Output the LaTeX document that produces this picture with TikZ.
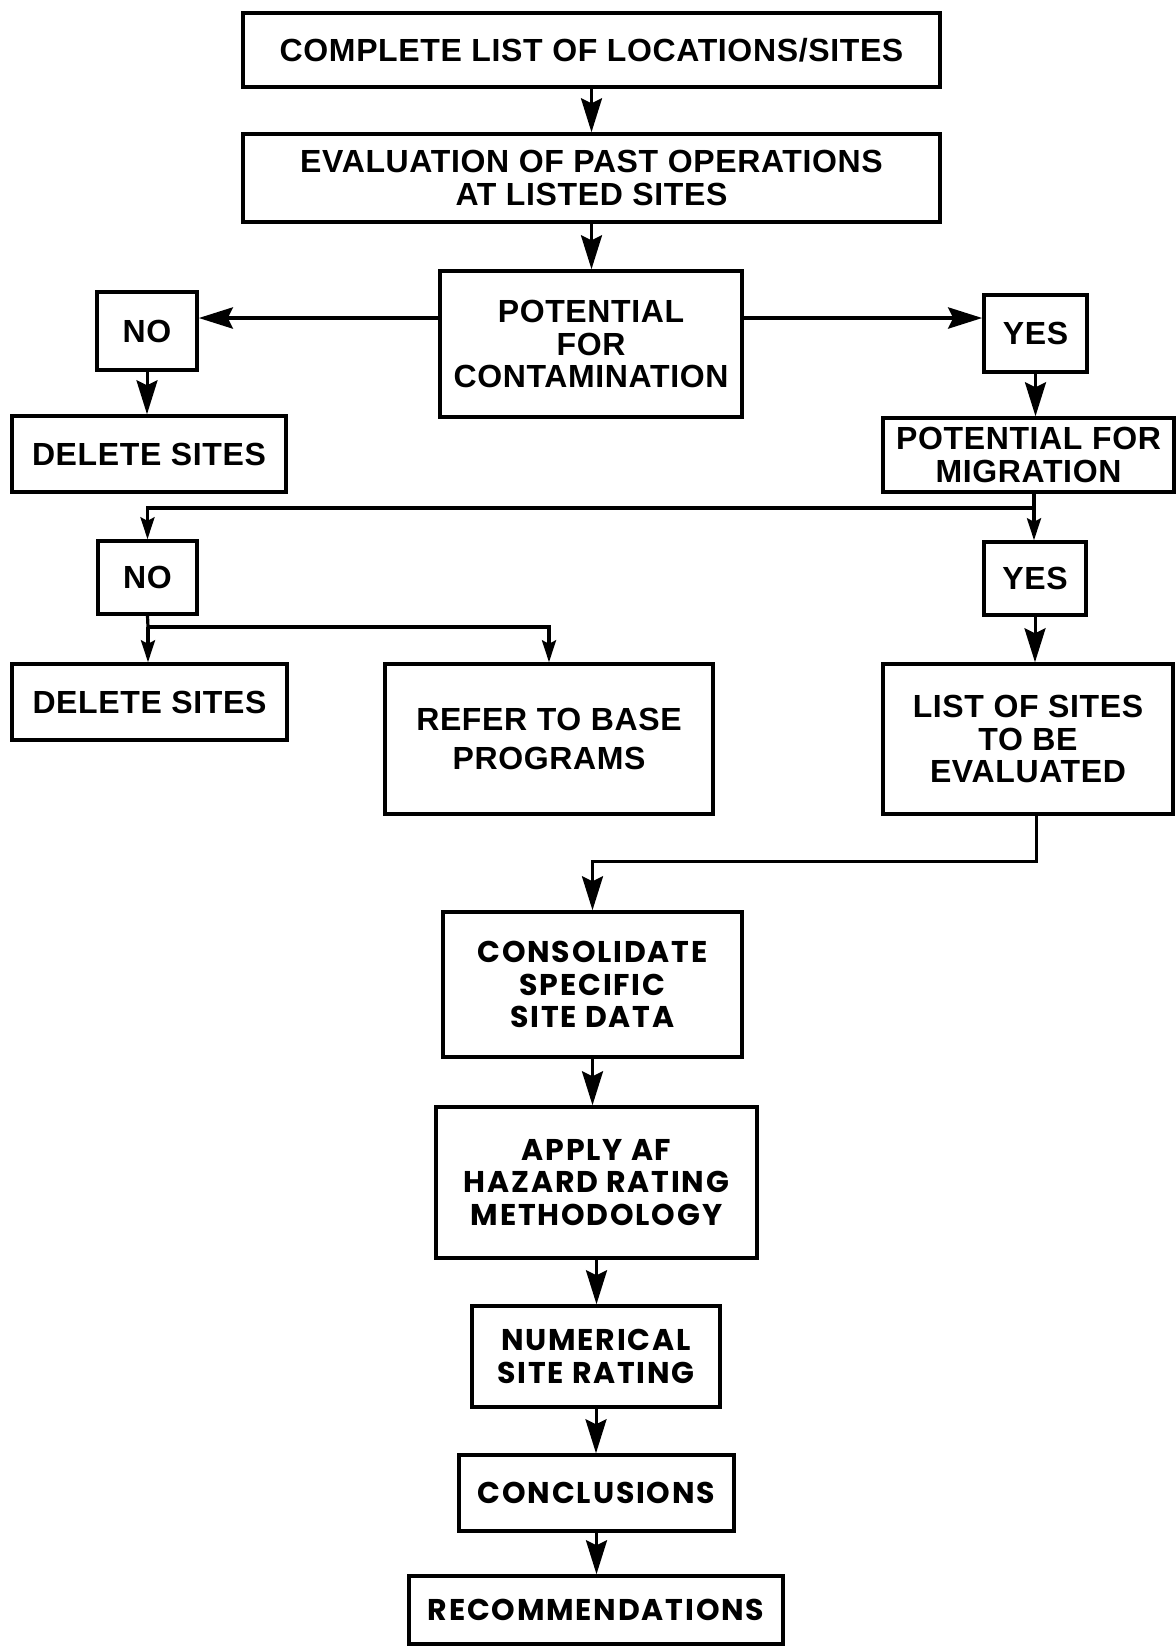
\documentclass[tikz,border=0pt]{standalone}
\usepackage{fontspec}
\setmainfont{Liberation Sans}
\newfontfamily\narrowfont{Liberation Sans}[LetterSpace=2]
\newfontfamily\widefont{Poppins}[LetterSpace=6]
\usetikzlibrary{arrows.meta}
\begin{document}
\begin{tikzpicture}[x=0.5pt,y=-0.5pt,
  box/.style={draw,line width=1.75pt,inner sep=0pt,align=center},
  toptext/.style={font=\narrowfont\bfseries\fontsize{16}{16.3}\selectfont},
  lowtext/.style={font=\widefont\bfseries\fontsize{15}{16.3}\selectfont},
  arr/.style={line width=1.5pt,-{Stealth[length=17pt,width=10.5pt,inset=2.5pt]}},
  harr/.style={line width=2.2pt,-{Stealth[length=17pt,width=10.5pt,inset=2.5pt]}},
  sarr/.style={line width=1.6pt,-{Stealth[length=11pt,width=7pt,inset=1.8pt]}},
  ln/.style={line width=1.6pt}]
\useasboundingbox (0,0) rectangle (1176,1646);
% boxes
\node[box,toptext,minimum width=348.5pt,minimum height=37pt] (b1) at (591.5,50) {COMPLETE LIST OF LOCATIONS/SITES};
\node[box,toptext,minimum width=348.5pt,minimum height=44pt] (b2) at (591.5,178) {EVALUATION OF PAST OPERATIONS\\AT LISTED SITES};
\node[box,toptext,minimum width=151pt,minimum height=73pt] (b3) at (591,344) {POTENTIAL\\FOR\\CONTAMINATION};
\node[box,toptext,minimum width=50pt,minimum height=39pt,text depth=-2pt] (no1) at (147,331) {NO};
\node[box,toptext,minimum width=51.5pt,minimum height=38.5pt,text depth=-2pt] (yes1) at (1035.5,333.5) {YES};
\node[box,toptext,minimum width=137pt,minimum height=38pt] (del1) at (149,454) {DELETE SITES};
\node[box,toptext,minimum width=145.5pt,minimum height=37pt] (mig) at (1028.5,455) {POTENTIAL FOR\\MIGRATION};
\node[box,toptext,minimum width=49.5pt,minimum height=36.5pt] (no2) at (147.5,577.5) {NO};
\node[box,toptext,minimum width=51pt,minimum height=36.5pt] (yes2) at (1035,578.5) {YES};
\node[box,toptext,minimum width=137.5pt,minimum height=38pt] (del2) at (149.5,702) {DELETE SITES};
\node[box,toptext,font=\narrowfont\bfseries\fontsize{16}{19.5}\selectfont,minimum width=164pt,minimum height=75pt] (refer) at (549,739) {REFER TO BASE\\PROGRAMS};
\node[box,toptext,minimum width=145pt,minimum height=75pt] (list) at (1028,739) {LIST OF SITES\\TO BE\\EVALUATED};
\node[box,lowtext,minimum width=149.5pt,minimum height=72.5pt] (cons) at (592.5,984.5) {CONSOLIDATE\\SPECIFIC\\SITE DATA};
\node[box,lowtext,minimum width=160.5pt,minimum height=75.5pt] (apply) at (596.5,1182.5) {APPLY AF\\HAZARD RATING\\METHODOLOGY};
\node[box,lowtext,minimum width=124pt,minimum height=50.5pt] (num) at (596,1356.5) {NUMERICAL\\SITE RATING};
\node[box,lowtext,minimum width=137.5pt,minimum height=38pt] (conc) at (596.5,1493) {CONCLUSIONS};
\node[box,lowtext,minimum width=187pt,minimum height=34pt] (rec) at (596,1610) {RECOMMENDATIONS};
% helper coordinates
\coordinate (hy) at (0,318);
\coordinate (j1) at (1034,508);
\coordinate (j2) at (148,627);
\coordinate (j3) at (1036,861);
% connectors
\draw[arr] (b1.south) -- (b1.south |- b2.north);
\draw[arr] (b2.south) -- (b2.south |- b3.north);
\draw[harr] (b3.west |- hy) -- (no1.east |- hy);
\draw[harr] (b3.east |- hy) -- (yes1.west |- hy);
\draw[arr] (no1.south) -- (no1.south |- del1.north);
\draw[arr] (yes1.south) -- (yes1.south |- mig.north);
\draw[ln] (mig.south -| j1) -- (j1);
\draw[sarr] (j1) -- (j1 |- yes2.north);
\draw[sarr] (j1) -- (no2.north |- j1) -- (no2.north);
\draw[ln] (no2.south) -- (j2);
\draw[sarr] (j2) -- (j2 |- del2.north);
\draw[sarr] (j2) -| (refer.north);
\draw[arr] (yes2.south) -- (yes2.south |- list.north);
\draw[arr] (list.south -| j3) -- (j3) -| (cons.north);
\draw[arr] (cons.south) -- (cons.south |- apply.north);
\draw[arr] (apply.south) -- (apply.south |- num.north);
\draw[arr] (num.south) -- (num.south |- conc.north);
\draw[arr] (conc.south) -- (conc.south |- rec.north);
\end{tikzpicture}
\end{document}
